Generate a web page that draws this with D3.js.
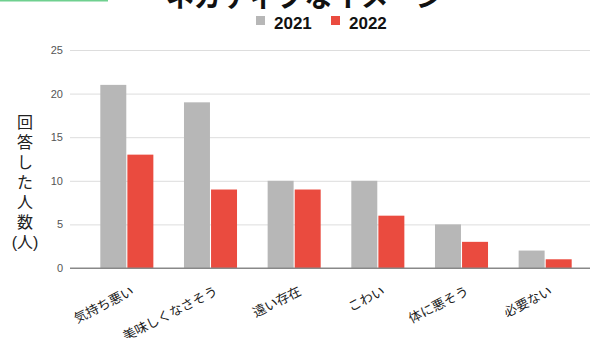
<!DOCTYPE html>
<html>
<head>
<meta charset="utf-8">
<script src="https://cdn.jsdelivr.net/npm/d3@7"></script>
<style>
  body { margin: 0; background: #fff; }
  svg { font-family: "Liberation Sans", "Noto Sans CJK JP", sans-serif; }
</style>
</head>
<body>
<div id="chart"></div>
<script>
var categories = ["気持ち悪い", "美味しくなさそう", "遠い存在", "こわい", "体に悪そう", "必要ない"];
var series = ["2021", "2022"];
var values2021 = [21, 19, 10, 10, 5, 2];
var values2022 = [13, 9, 9, 6, 3, 1];
var yTicks = [0, 5, 10, 15, 20, 25];
var yTitle = ["回", "答", "し", "た", "人", "数", "(人)"];

var width = 596,
    height = 338;

var colors = d3.scaleOrdinal().domain(series).range(["#b7b7b7", "#ea4b3f"]);

var svg = d3.select("#chart").append("svg")
    .attr("width", width)
    .attr("height", height)

var x = d3.scaleBand()
    .domain(categories)
    .range([85, 587])
    .paddingInner(0.366)
    .paddingOuter(0.183)

var x1 = d3.scaleBand()
    .domain(series)
    .range([0, x.bandwidth()])
    .paddingInner(0.04)

var y = d3.scaleLinear()
    .domain([0, 25])
    .range([268, 50]);

// green strip at the top
svg.append("line")
    .attr("x1", 0).attr("x2", 108)
    .attr("y1", 0.5).attr("y2", 0.5)
    .attr("stroke", "#6fd08f")
    .attr("stroke-width", 2)

// title (cut off at the top in the original)
svg.append("text")
    .attr("x", 305)
    .attr("y", 7)
    .attr("text-anchor", "middle")
    .attr("font-size", 28)
    .attr("font-weight", "bold")
    .attr("fill", "#111")
    .text("ネガティブなイメージ")

// legend
var legend = svg.append("g").attr("transform", "translate(256,0)");
var lg = legend.selectAll("g")
    .data(series)
    .enter().append("g")
    .attr("transform", function (d, i) { return "translate(" + (i * 75) + ",0)"; })
lg.append("rect")
    .attr("x", 0).attr("y", 16)
    .attr("width", 9).attr("height", 9)
    .attr("fill", function (d) { return colors(d); })
lg.append("text")
    .attr("x", 18).attr("y", 29)
    .attr("font-size", 17)
    .attr("font-weight", "bold")
    .attr("fill", "#111")
    .text(function (d) { return d; })

// grid + y ticks
var yAxis = d3.axisLeft(y)
    .tickValues(yTicks)
    .tickSize(-(590 - 70))
    .tickPadding(7)

var ga = svg.append("g")
    .attr("transform", "translate(70,0)")
    .call(yAxis)
ga.select(".domain").remove();
ga.selectAll(".tick line")
    .attr("stroke", function (d) { return d === 0 ? "#888" : "#ddd"; })
ga.selectAll(".tick text")
    .attr("font-size", 11)
    .attr("fill", "#555")
    .attr("font-family", "Liberation Sans, sans-serif")

// bars
var rows = categories.map(function (c, i) {
    return { cat: c, vals: [{ s: "2021", v: values2021[i] }, { s: "2022", v: values2022[i] }] };
});

var groups = svg.selectAll(".grp")
    .data(rows)
    .enter().append("g")
    .attr("class", "grp")
    .attr("transform", function (d) { return "translate(" + x(d.cat) + ",0)"; })

groups.selectAll("rect")
    .data(function (d) { return d.vals; })
    .enter().append("rect")
    .attr("x", function (d) { return x1(d.s); })
    .attr("width", x1.bandwidth())
    .attr("y", function (d) { return y(d.v); })
    .attr("height", function (d) { return y(0) - y(d.v); })
    .attr("fill", function (d) { return colors(d.s); })

// redraw baseline over bars
svg.append("line")
    .attr("x1", 70).attr("x2", 590)
    .attr("y1", y(0)).attr("y2", y(0))
    .attr("stroke", "#888")

// x labels, slanted
svg.selectAll(".xl")
    .data(categories)
    .enter().append("text")
    .attr("class", "xl")
    .attr("text-anchor", "end")
    .attr("font-size", 13)
    .attr("fill", "#222")
    .attr("transform", function (d) {
        var cx = x(d) + x.bandwidth() / 2 + 8;
        return "translate(" + cx + ",294) rotate(-27)";
    })
    .text(function (d) { return d; })

// y title, stacked characters
svg.selectAll(".yt")
    .data(yTitle)
    .enter().append("text")
    .attr("class", "yt")
    .attr("x", 25)
    .attr("y", function (d, i) { return 128 + i * 20; })
    .attr("text-anchor", "middle")
    .attr("font-size", 16)
    .attr("fill", "#222")
    .text(function (d) { return d; })
</script>
</body>
</html>
